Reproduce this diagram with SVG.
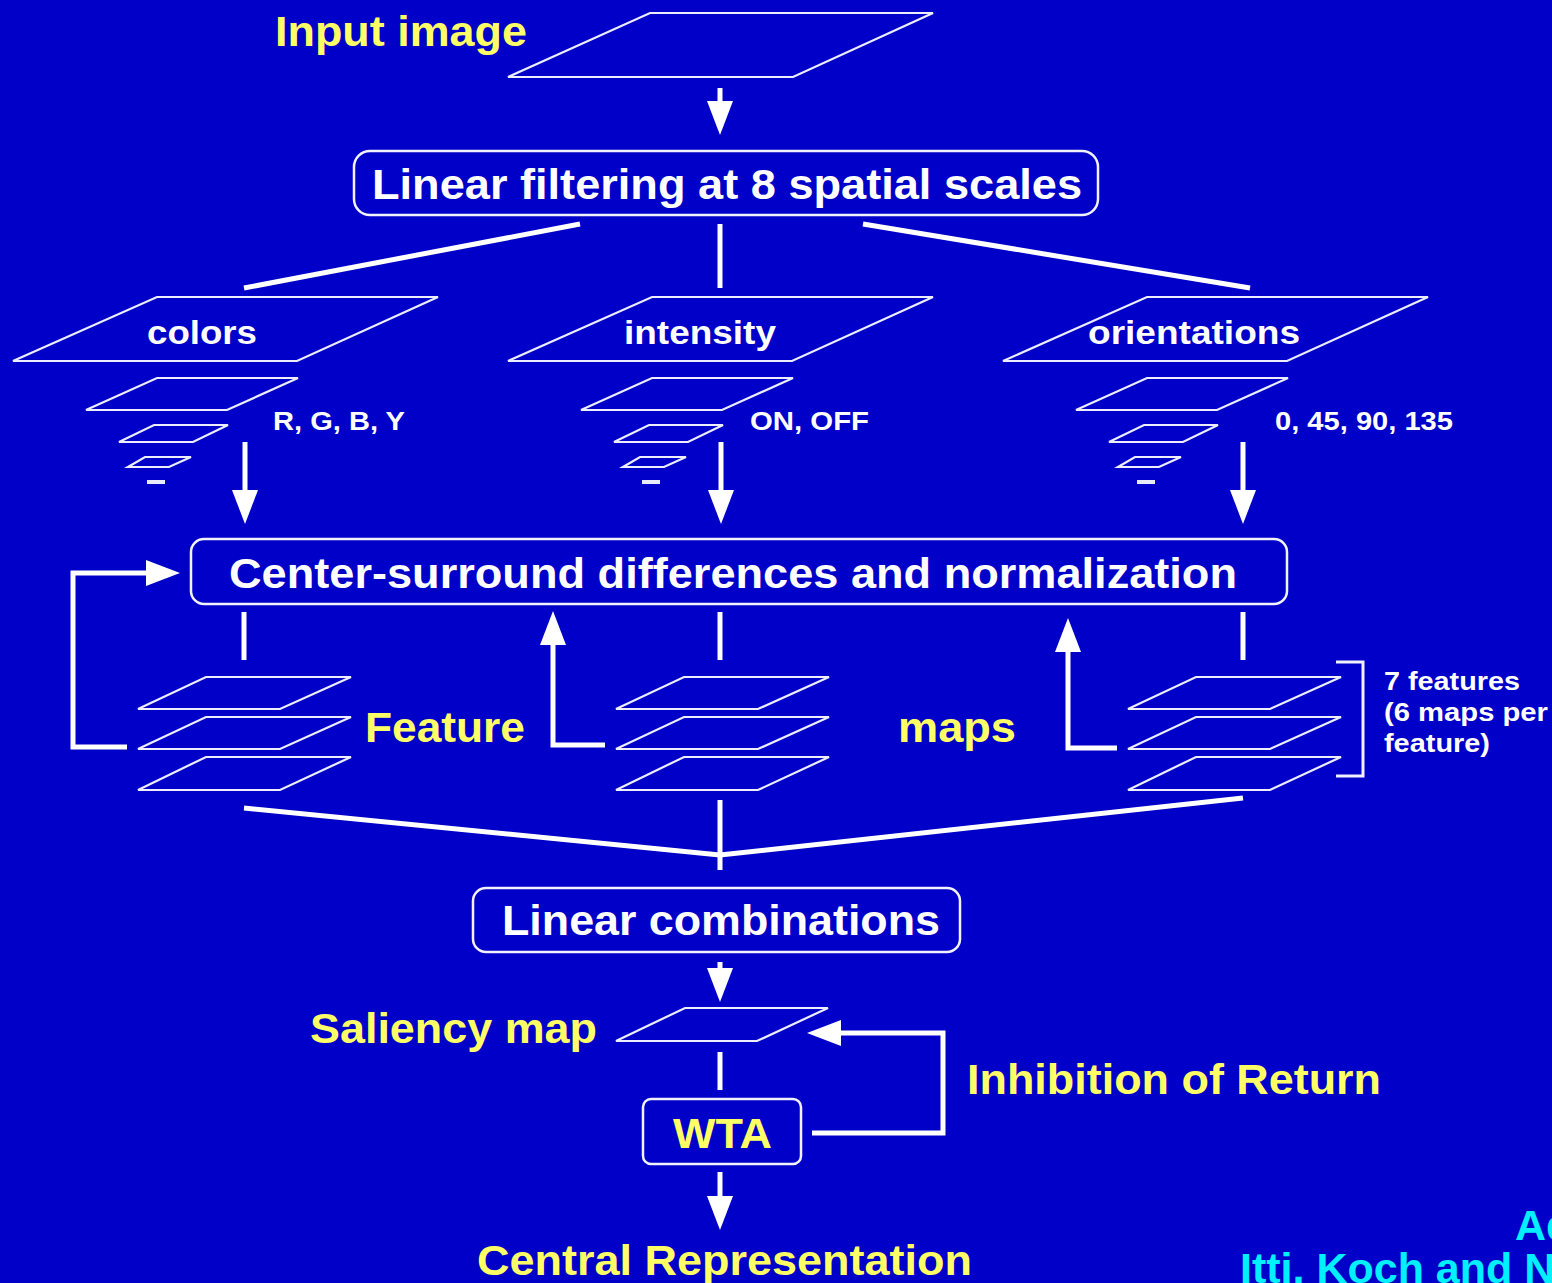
<svg xmlns="http://www.w3.org/2000/svg" width="1552" height="1283" viewBox="0 0 1552 1283">
  <style>
    .plane { fill: none; stroke: #EDEDFF; stroke-width: 2.2; stroke-linejoin: miter; }
    .box { fill: none; stroke: #F2F2FF; stroke-width: 2.5; }
    .wire { fill: none; stroke: #FFFFFF; stroke-width: 5; stroke-linejoin: miter; }
    .arrow { fill: none; stroke: #FFFFFF; stroke-width: 5; stroke-linejoin: miter; marker-end: url(#head); }
    .big { font-family: "Liberation Sans", Arial, sans-serif; font-weight: bold; font-size: 43px; }
    .mid { font-family: "Liberation Sans", Arial, sans-serif; font-weight: bold; font-size: 34px; fill: #FFFFFF; }
    .small { font-family: "Liberation Sans", Arial, sans-serif; font-weight: bold; font-size: 26px; fill: #FFFFFF; }
    .white { fill: #FFFFFF; }
    .yellow { fill: #FFFF66; }
    .cyan { fill: #00F0FF; }
  </style>
  <defs>
    <marker id="head" markerUnits="userSpaceOnUse" viewBox="0 0 34 26" markerWidth="34" markerHeight="26" refX="10" refY="13" orient="auto">
      <path d="M0,0 L34,13 L0,26 z" fill="#FFFFFF"/>
    </marker>
  </defs>

  <rect x="0" y="0" width="1552" height="1283" fill="#0000C8"/>

  <!-- Input image -->
  <g id="input-image">
    <polygon class="plane" points="650,13 933,13 793,77 508,77"/>
    <text class="big yellow" x="275" y="46" textLength="252" lengthAdjust="spacingAndGlyphs">Input image</text>
  </g>

  <!-- Linear filtering -->
  <g id="linear-filtering">
    <rect class="box" x="354" y="151" width="744" height="64" rx="16"/>
    <text class="big white" x="372" y="199" textLength="710" lengthAdjust="spacingAndGlyphs">Linear filtering at 8 spatial scales</text>
  </g>

  <!-- Pyramid: colors -->
  <g id="colors">
    <polygon class="plane" points="157,297 438,297 297,361 13,361"/>
    <polygon class="plane" points="157,378 298,378 227,410 86,410"/>
    <polygon class="plane" points="154,425 228,425 193,442 119,442"/>
    <polygon class="plane" points="145,457 191,457 169,467 128,467" stroke-width="3"/>
    <line x1="147" y1="482" x2="165" y2="482" stroke="#E8E8FF" stroke-width="4"/>
    <text class="mid" x="147" y="344" textLength="110" lengthAdjust="spacingAndGlyphs">colors</text>
    <text class="small" x="273" y="430" textLength="132" lengthAdjust="spacingAndGlyphs">R, G, B, Y</text>
  </g>

  <!-- Pyramid: intensity -->
  <g id="intensity">
    <polygon class="plane" points="652,297 933,297 792,361 508,361"/>
    <polygon class="plane" points="652,378 793,378 722,410 581,410"/>
    <polygon class="plane" points="649,425 723,425 688,442 614,442"/>
    <polygon class="plane" points="640,457 686,457 664,467 623,467" stroke-width="3"/>
    <line x1="642" y1="482" x2="660" y2="482" stroke="#E8E8FF" stroke-width="4"/>
    <text class="mid" x="624" y="344" textLength="152" lengthAdjust="spacingAndGlyphs">intensity</text>
    <text class="small" x="750" y="430" textLength="119" lengthAdjust="spacingAndGlyphs">ON, OFF</text>
  </g>

  <!-- Pyramid: orientations -->
  <g id="orientations">
    <polygon class="plane" points="1147,297 1428,297 1287,361 1003,361"/>
    <polygon class="plane" points="1147,378 1288,378 1217,410 1076,410"/>
    <polygon class="plane" points="1144,425 1218,425 1183,442 1109,442"/>
    <polygon class="plane" points="1135,457 1181,457 1159,467 1118,467" stroke-width="3"/>
    <line x1="1137" y1="482" x2="1155" y2="482" stroke="#E8E8FF" stroke-width="4"/>
    <text class="mid" x="1088" y="344" textLength="212" lengthAdjust="spacingAndGlyphs">orientations</text>
    <text class="small" x="1275" y="430" textLength="178" lengthAdjust="spacingAndGlyphs">0, 45, 90, 135</text>
  </g>

  <!-- Center-surround -->
  <g id="center-surround">
    <rect class="box" x="191" y="539" width="1096" height="65" rx="13"/>
    <text class="big white" x="229" y="588" textLength="1008" lengthAdjust="spacingAndGlyphs">Center-surround differences and normalization</text>
  </g>

  <!-- Feature map stacks -->
  <g id="feature-maps-colors">
    <polygon class="plane" points="206,677 351,677 280,709 138,709"/>
    <polygon class="plane" points="206,717 351,717 280,749 138,749"/>
    <polygon class="plane" points="206,757 351,757 280,790 138,790"/>
  </g>
  <g id="feature-maps-intensity">
    <polygon class="plane" points="684,677 829,677 758,709 616,709"/>
    <polygon class="plane" points="684,717 829,717 758,749 616,749"/>
    <polygon class="plane" points="684,757 829,757 758,790 616,790"/>
  </g>
  <g id="feature-maps-orientations">
    <polygon class="plane" points="1196,677 1341,677 1270,709 1128,709"/>
    <polygon class="plane" points="1196,717 1341,717 1270,749 1128,749"/>
    <polygon class="plane" points="1196,757 1341,757 1270,790 1128,790"/>
    <polyline fill="none" stroke="#F0F0FF" stroke-width="3" points="1336,662 1363,662 1363,776 1336,776"/>
  </g>
  <g id="feature-labels">
    <text class="big yellow" x="365" y="742" textLength="160" lengthAdjust="spacingAndGlyphs">Feature</text>
    <text class="big yellow" x="898" y="742" textLength="118" lengthAdjust="spacingAndGlyphs">maps</text>
    <text class="small" x="1384" y="690" textLength="136" lengthAdjust="spacingAndGlyphs">7 features</text>
    <text class="small" x="1384" y="721" textLength="164" lengthAdjust="spacingAndGlyphs">(6 maps per</text>
    <text class="small" x="1384" y="752" textLength="106" lengthAdjust="spacingAndGlyphs">feature)</text>
  </g>

  <!-- Linear combinations -->
  <g id="linear-combinations">
    <rect class="box" x="473" y="888" width="487" height="64" rx="13"/>
    <text class="big white" x="502" y="935" textLength="438" lengthAdjust="spacingAndGlyphs">Linear combinations</text>
  </g>

  <!-- Saliency map -->
  <g id="saliency-map">
    <polygon class="plane" points="685,1008 828,1008 757,1041 616,1041"/>
    <text class="big yellow" x="310" y="1043" textLength="287" lengthAdjust="spacingAndGlyphs">Saliency map</text>
  </g>

  <!-- WTA -->
  <g id="wta">
    <rect class="box" x="643" y="1099" width="158" height="65" rx="8"/>
    <text class="big yellow" x="673" y="1148" textLength="99" lengthAdjust="spacingAndGlyphs">WTA</text>
  </g>

  <g id="inhibition-label">
    <text class="big yellow" x="967" y="1094" textLength="414" lengthAdjust="spacingAndGlyphs">Inhibition of Return</text>
  </g>

  <g id="central-representation">
    <text class="big yellow" x="477" y="1275" textLength="495" lengthAdjust="spacingAndGlyphs">Central Representation</text>
  </g>

  <g id="credit">
    <text class="big cyan" x="1515" y="1240">Adapted from</text>
    <text class="big cyan" x="1240" y="1283">Itti, Koch and Niebur</text>
  </g>

  <!-- Connectors -->
  <g id="connectors">
    <path class="arrow" d="M720,88 V111"/>
    <line class="wire" x1="580" y1="224" x2="244" y2="288"/>
    <line class="wire" x1="720" y1="224" x2="720" y2="288"/>
    <line class="wire" x1="863" y1="224" x2="1250" y2="288"/>

    <path class="arrow" d="M245,442 V500"/>
    <path class="arrow" d="M721,442 V500"/>
    <path class="arrow" d="M1243,442 V500"/>

    <line class="wire" x1="244" y1="612" x2="244" y2="660"/>
    <line class="wire" x1="720" y1="612" x2="720" y2="660"/>
    <line class="wire" x1="1243" y1="612" x2="1243" y2="660"/>

    <path class="arrow" d="M127,747 H73 V573 H156"/>
    <path class="arrow" d="M605,745 H553 V635"/>
    <path class="arrow" d="M1117,748 H1068 V642"/>

    <line class="wire" x1="244" y1="808" x2="720" y2="855"/>
    <line class="wire" x1="1243" y1="798" x2="720" y2="855"/>
    <line class="wire" x1="720" y1="800" x2="720" y2="870"/>

    <path class="arrow" d="M720,962 V978"/>
    <line class="wire" x1="720" y1="1052" x2="720" y2="1090"/>
    <path class="arrow" d="M812,1133 H943 V1033 H831"/>
    <path class="arrow" d="M720,1172 V1206"/>
  </g>
</svg>
